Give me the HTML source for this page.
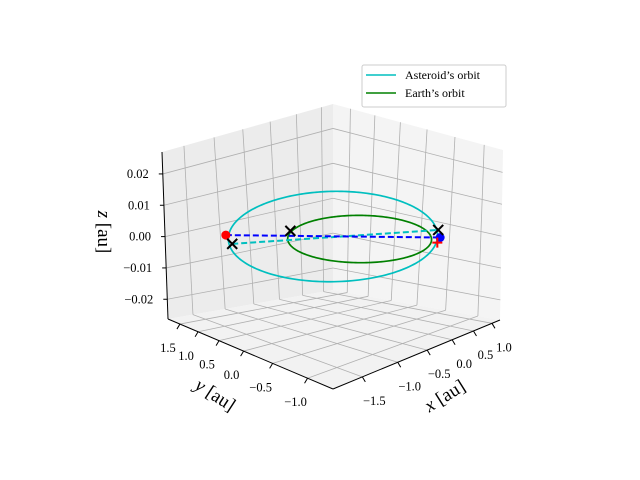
<!DOCTYPE html>
<html><head><meta charset="utf-8">
<style>
body{margin:0;background:#fff;}
svg{display:block;font-family:"Liberation Serif","DejaVu Serif",serif;}
</style></head>
<body>
<svg id="chart" width="640" height="480" viewBox="0 0 640 480" xmlns="http://www.w3.org/2000/svg">
<rect width="640" height="480" fill="#fff"/>
<g id="panes"></g><g id="grid"></g><g id="axes"></g><g id="series"></g>
<g id="legend">
<rect x="362" y="65" width="144" height="42" rx="2" fill="#fff" stroke="#ccc" stroke-width="1"/>
<line x1="366" y1="75" x2="396" y2="75" stroke="#00bfbf" stroke-width="1.5"/>
<text x="405" y="79" font-size="12">Asteroid’s orbit</text>
<line x1="366" y1="93" x2="396" y2="93" stroke="#008000" stroke-width="1.5"/>
<text x="405" y="97" font-size="12">Earth’s orbit</text>
</g>
</svg>
<script>
// ---- data ----
const xTicks = [-1.5, -1.0, -0.5, 0.0, 0.5, 1.0];
const yTicks = [-1.0, -0.5, 0.0, 0.5, 1.0, 1.5];
const zTicks = [-0.02, -0.01, 0.0, 0.01, 0.02];
const xLim = [-1.85, 1.24];
const yLim = [-1.31, 1.87];
const zLim = [-0.0263, 0.027];
// ellipse: [center x, center y, semi-axis A (along angle), semi-axis B, angle deg]
const earthOrbit = [-0.05, 0.04, 0.94, 1.08, -45];
const asteroidOrbit = [0.075, 0.655, 1.42, 2.2, -45];
// markers [x, y, z]
const asteroidPos = [-1.0, 1.73, -0.0028];
const earthPos = [0.74, -0.69, -0.0009];
const crossA = [-0.945, 1.665, -0.0055];
const crossB = [-0.67, 0.71, 0.0015];
const crossC = [0.68, -0.70, 0.0018];
const plusPos = [0.65, -0.71, -0.002];

// ---- projection ----
function homography(src, dst){
  const A=[],b=[];
  for(let i=0;i<4;i++){const[u,v]=src[i],[X,Y]=dst[i];
    A.push([u,v,1,0,0,0,-u*X,-v*X]);b.push(X);
    A.push([0,0,0,u,v,1,-u*Y,-v*Y]);b.push(Y);}
  const n=8;
  for(let c=0;c<n;c++){let p=c;for(let r=c+1;r<n;r++)if(Math.abs(A[r][c])>Math.abs(A[p][c]))p=r;
    [A[c],A[p]]=[A[p],A[c]];[b[c],b[p]]=[b[p],b[c]];
    for(let r=0;r<n;r++){if(r===c)continue;const f=A[r][c]/A[c][c];
      for(let k=c;k<n;k++)A[r][k]-=f*A[c][k];b[r]-=f*b[c];}}
  const h=b.map((v,i)=>v/A[i][i]);
  return (u,v)=>{const w=h[6]*u+h[7]*v+1;return[(h[0]*u+h[1]*v+h[2])/w,(h[3]*u+h[4]*v+h[5])/w];};
}
const sq=[[0,0],[1,0],[0,1],[1,1]];
const Hb=homography(sq,[[333,389],[500,320],[168,319],[333,290]]);
const Ht=homography(sq,[[332,215],[503,150],[162,152],[333,104]]);
function P(x,y,z){
  const u=(x-xLim[0])/(xLim[1]-xLim[0]), v=(y-yLim[0])/(yLim[1]-yLim[0]), t=(z-zLim[0])/(zLim[1]-zLim[0]);
  const b=Hb(u,v), a=Ht(u,v);
  return [b[0]+t*(a[0]-b[0]), b[1]+t*(a[1]-b[1])];
}
const NS='http://www.w3.org/2000/svg';
function mk(tag,attrs,parent){const e=document.createElementNS(NS,tag);for(const k in attrs)e.setAttribute(k,attrs[k]);document.getElementById(parent).appendChild(e);return e;}
function pts(arr){return arr.map(p=>p[0].toFixed(2)+','+p[1].toFixed(2)).join(' ');}

// panes
const [x0,x1]=xLim,[y0,y1]=yLim,[z0,z1]=zLim;
let e;
e=mk('polygon',{points:pts([P(x0,y1,z0),P(x1,y1,z0),P(x1,y1,z1),P(x0,y1,z1)]),fill:'#ececec'},'panes');


e=mk('polygon',{points:pts([P(x1,y0,z0),P(x1,y1,z0),P(x1,y1,z1),P(x1,y0,z1)]),fill:'#f4f4f4'},'panes');


e=mk('polygon',{points:pts([P(x0,y0,z0),P(x1,y0,z0),P(x1,y1,z0),P(x0,y1,z0)]),fill:'#f2f2f2'},'panes');



// grid
const gs={stroke:'#b0b0b0','stroke-width':0.8,fill:'none'};
function gl(a,b){const l=mk('line',Object.assign({x1:a[0],y1:a[1],x2:b[0],y2:b[1]},gs),'grid');
  
  }
xTicks.forEach(x=>{gl(P(x,y0,z0),P(x,y1,z0));gl(P(x,y1,z0),P(x,y1,z1));});
yTicks.forEach(y=>{gl(P(x0,y,z0),P(x1,y,z0));gl(P(x1,y,z0),P(x1,y,z1));});
zTicks.forEach(z=>{gl(P(x0,y1,z),P(x1,y1,z));gl(P(x1,y1,z),P(x1,y0,z));});

// axis lines
function axl(a,b,name){const l=mk('line',{x1:a[0],y1:a[1],x2:b[0],y2:b[1],stroke:'#000','stroke-width':1},'axes');
  
  }
axl(P(x0,y0,z0),P(x1,y0,z0),'x-axis-line');
axl(P(x0,y0,z0),P(x0,y1,z0),'y-axis-line');
axl(P(x0,y1,z0),P(x0,y1,z1),'z-axis-line');
function fmt(v,d){const s=Math.abs(v).toFixed(d);return (v<-1e-9?'−':'')+s;}
function tlabel(p,txt,name,anchor){const t=mk('text',{x:p[0],y:p[1],'font-size':12.5,'text-anchor':anchor||'middle'},'axes');t.textContent=txt;
  
  }
xTicks.forEach(x=>{const p=P(x,y0,z0);axl(p,[p[0]+3,p[1]+5],'x-tick');tlabel([p[0]+12,p[1]+28],fmt(x,1),'x-tick-label');});
yTicks.forEach(y=>{const p=P(x0,y,z0);axl(p,[p[0]-3,p[1]+5],'y-tick');tlabel([p[0]-12,p[1]+28],fmt(y,1),'y-tick-label');});
zTicks.forEach(z=>{const p=P(x0,y1,z);axl(p,[p[0]-4,p[1]],'z-tick');tlabel([p[0]-14,p[1]+4],fmt(z,2),'z-tick-label','end');});

// axis titles
function title(x,y,rot,name,v){const t=mk('text',{x:x,y:y,'font-size':19,'text-anchor':'middle',transform:`rotate(${rot} ${x} ${y})`},'axes');
  t.innerHTML='<tspan font-style="italic">'+v+'</tspan> [au]';
  
  }
title(448,401,-32,'x-axis-title','x');
title(212,400,33,'y-axis-title','y');
title(98,232,90,'z-axis-title','z');

// series
function orbitPath(el){const [cx,cy,A,B,deg]=el;const w=deg*Math.PI/180;const out=[];
  const ux=Math.cos(w),uy=Math.sin(w),vx=-Math.sin(w),vy=Math.cos(w);
  for(let i=0;i<=240;i++){const th=i/240*2*Math.PI;const a=A*Math.cos(th),b=B*Math.sin(th);
    out.push(P(cx+a*ux+b*vx,cy+a*uy+b*vy,0));}return out;}
e=mk('polyline',{points:pts(orbitPath(asteroidOrbit)),fill:'none',stroke:'#00bfbf','stroke-width':1.7},'series');


e=mk('polyline',{points:pts(orbitPath(earthOrbit)),fill:'none',stroke:'#008000','stroke-width':1.7},'series');


function dline(a,b,col,name){const p=P(...a),q=P(...b);const l=mk('line',{x1:p[0],y1:p[1],x2:q[0],y2:q[1],stroke:col,'stroke-width':2,'stroke-dasharray':'6,3'},'series');
  
  }
dline(crossA,crossC,'#00bfbf','asteroid-dashed-line');
dline(asteroidPos,earthPos,'#0000ff','earth-asteroid-dashed-line');
function dot(pos,col,name){const p=P(...pos);const c=mk('circle',{cx:p[0],cy:p[1],r:4.5,fill:col},'series');
  
  }
dot(asteroidPos,'#ff0000','asteroid-marker');
dot(earthPos,'#0000ff','earth-marker');
function cross(pos,name){const p=P(...pos),s=5;const g=mk('path',{d:`M${p[0]-s},${p[1]-s}L${p[0]+s},${p[1]+s}M${p[0]-s},${p[1]+s}L${p[0]+s},${p[1]-s}`,stroke:'#000','stroke-width':2,fill:'none'},'series');
  
  }
cross(crossA,'x-marker-asteroid');
cross(crossB,'x-marker-earth-left');
cross(crossC,'x-marker-earth-right');
(function(){const p=P(...plusPos),s=5;const g=mk('path',{d:`M${p[0]-s},${p[1]}L${p[0]+s},${p[1]}M${p[0]},${p[1]-s}L${p[0]},${p[1]+s}`,stroke:'#ff0000','stroke-width':2,fill:'none'},'series');
  
  })();
</script>
</body></html>
